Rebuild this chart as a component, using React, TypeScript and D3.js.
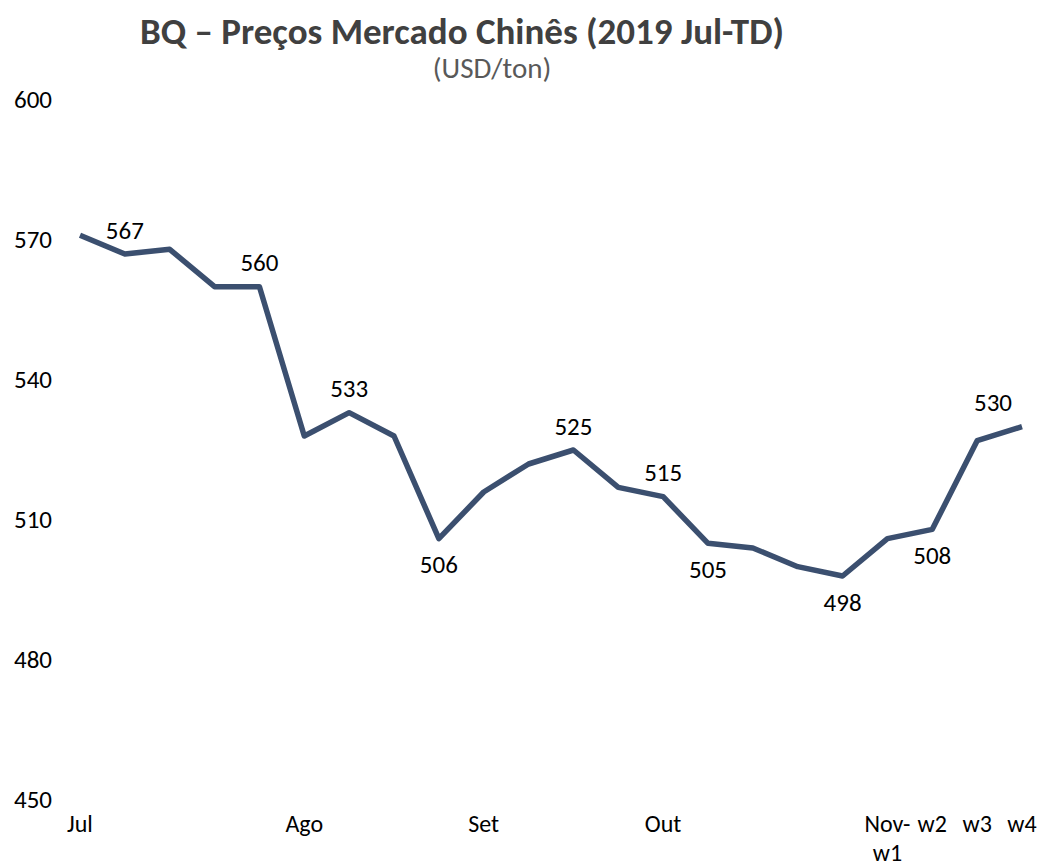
import React from 'react';
import * as d3 from 'd3';

// weekly BQ prices, China market (USD/ton)
const prices = [571, 567, 568, 560, 560, 528, 533, 528, 506, 516, 522, 525, 517, 515, 505, 504, 500, 498, 506, 508, 527, 530];
// index -> category label (two lines for Nov-w1)
const xLabels: [number, string[]][] = [
    [0, ['Jul']],
    [5, ['Ago']],
    [9, ['Set']],
    [13, ['Out']],
    [18, ['Nov-', 'w1']],
    [19, ['w2']],
    [20, ['w3']],
    [21, ['w4']],
];
// which points get a value label, and where
const labelled: [number, 'above' | 'below'][] = [
    [1, 'above'], [4, 'above'], [6, 'above'], [8, 'below'], [11, 'above'],
    [13, 'above'], [14, 'below'], [17, 'below'], [19, 'below'], [21, 'above'],
];
const yTicks = [450, 480, 510, 540, 570, 600];

const FONT = "Carlito, Lato, 'Open Sans', sans-serif";

export default function App() {
    const width = 1038, height = 867;

    const x = d3.scaleLinear().domain([0, prices.length - 1]).range([80, 1022]);
    const y = d3.scaleLinear().domain([450, 600]).range([800, 100]);

    const line = d3.line<number>()
        .x((d, i) => x(i))
        .y(d => y(d));

    return (
        <svg width={width} height={height}
             style={{ position: 'absolute', left: 0, top: 0, background: '#fff' }}
             fontFamily={FONT}>
            <text x={462} y={31} textAnchor="middle" dominantBaseline="central"
                  fontSize={37} fontWeight="bold" fill="#404040">
                BQ – Preços Mercado Chinês (2019 Jul-TD)
            </text>
            <text x={492} y={68} textAnchor="middle" dominantBaseline="central"
                  fontSize={29} fill="#595959">(USD/ton)</text>

            {yTicks.map(t => (
                <text key={t} x={14} y={y(t) - 1} dominantBaseline="central"
                      fontSize={25} fill="#000">{t}</text>
            ))}

            {xLabels.map(([i, lines]) => (
                <text key={i} x={x(i)} y={823} textAnchor="middle" dominantBaseline="central"
                      fontSize={24} fill="#000">
                    {lines.map((s, k) => (
                        <tspan key={k} x={x(i)} dy={k === 0 ? 0 : 29}>{s}</tspan>
                    ))}
                </text>
            ))}

            <path d={line(prices) || ''} fill="none" stroke="#3B4F6F"
                  strokeWidth={5.5} strokeLinejoin="round" />

            {labelled.map(([i, pos]) => (
                <text key={i} x={Math.min(x(i), width - 45)}
                      y={y(prices[i]) + (pos === 'above' ? -24 : 26)}
                      textAnchor="middle" dominantBaseline="central"
                      fontSize={25} fill="#000">{prices[i]}</text>
            ))}
        </svg>
    );
}
